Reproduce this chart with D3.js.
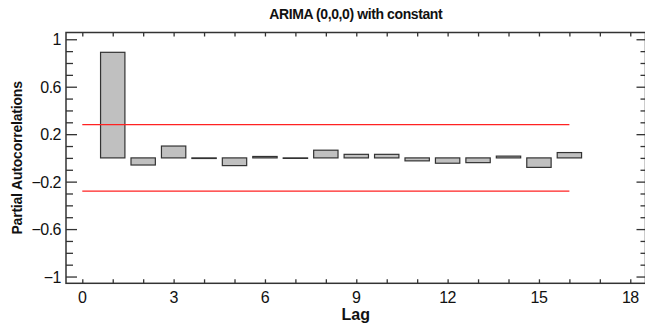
<!DOCTYPE html>
<html>
<head>
<meta charset="utf-8">
<script src="https://cdn.jsdelivr.net/npm/d3@7"></script>
<style>
  body { margin: 0; background: #fff; }
  text { font-family: "Liberation Sans Narrow", "Arial Narrow", "Liberation Sans", sans-serif; fill: #111; }
</style>
</head>
<body>
<div id="chart"></div>
<script>
// partial autocorrelations by lag
var lags = [1, 2, 3, 4, 5, 6, 7, 8, 9, 10, 11, 12, 13, 14, 15, 16]
var pacf = [0.89, -0.06, 0.10, -0.005, -0.065, 0.012, -0.004, 0.065, 0.03, 0.03, -0.025, -0.045, -0.04, 0.015, -0.08, 0.045]
var limit = 0.28
var x_ticks = [0, 3, 6, 9, 12, 15, 18]
var y_ticks = [-1, -0.6, -0.2, 0.2, 0.6, 1]
var title = "ARIMA (0,0,0) with constant"
var y_axis_label = "Partial Autocorrelations"
var x_axis_label = "Lag"

var width = 645
var height = 328
// plot box edges ("top" is taken by window.top)
var p_left = 66, p_top = 32.5, p_right = 645.5, p_bottom = 283.3

var svg = d3.select("#chart")
    .append("svg")
    .attr("width", width)
    .attr("height", height)

var x = d3.scaleLinear()
    .domain([-0.535, 18.5])
    .range([p_left, p_right])

var y = d3.scaleLinear()
    .domain([-1.057, 1.057])
    .range([p_bottom, p_top])

var minor_x = d3.range(0, 19)
var minor_y = d3.range(-10, 11).map((d) => d / 10)

// bars
svg.append("g")
    .selectAll("rect")
    .data(lags)
    .join("rect")
    .attr("x", (d) => x(d - 0.4))
    .attr("width", (d) => x(d + 0.4) - x(d - 0.4))
    .attr("y", (d, i) => y(Math.max(0, pacf[i])))
    .attr("height", (d, i) => Math.max(0.5, Math.abs(y(pacf[i]) - y(0))))
    .attr("fill", "#c0c0c0")
    .attr("stroke", "#333")
    .attr("stroke-width", 1.2)

// significance limits
;[limit, -limit].forEach((v) => {
    svg.append("line")
        .attr("x1", x(0))
        .attr("x2", x(16))
        .attr("y1", y(v))
        .attr("y2", y(v))
        .attr("stroke", "#f22")
        .attr("stroke-width", 1.2)
})

// axes on all four sides, ticks pointing in
var y_major = (d) => y_ticks.some((t) => Math.abs(t - d) < 1e-9)

svg.append("g")
    .attr("transform", "translate(" + p_left + ",0)")
    .call(d3.axisRight(y).tickValues(minor_y).tickSize(7).tickFormat(""))
    .call((g) => g.selectAll(".tick line").filter(y_major).attr("x2", 11))
svg.append("g")
    .attr("transform", "translate(" + p_right + ",0)")
    .call(d3.axisLeft(y).tickValues(minor_y).tickSize(5).tickFormat(""))
    .call((g) => g.selectAll(".tick line").filter(y_major).attr("x2", -9))
svg.append("g")
    .attr("transform", "translate(0," + p_bottom + ")")
    .call(d3.axisTop(x).tickValues(minor_x).tickSize(4).tickFormat(""))
svg.append("g")
    .attr("transform", "translate(0," + p_top + ")")
    .call(d3.axisBottom(x).tickValues(minor_x).tickSize(4).tickFormat(""))

svg.selectAll(".domain").remove()
svg.selectAll(".tick line").attr("stroke", "#333").attr("stroke-width", 1.3)

svg.append("rect")
    .attr("x", p_left)
    .attr("y", p_top)
    .attr("width", p_right - p_left)
    .attr("height", p_bottom - p_top)
    .attr("fill", "none")
    .attr("stroke", "#333")
    .attr("stroke-width", 1.5)

// tick labels
svg.append("g")
    .selectAll("text")
    .data(y_ticks)
    .join("text")
    .attr("x", p_left - 5)
    .attr("y", (d) => y(d) + 6)
    .attr("text-anchor", "end")
    .style("font-size", "16px")
    .style("letter-spacing", "-0.5px")
    .text((d) => d3.format("")(d).replace("-", "\u2212"))

svg.append("g")
    .selectAll("text")
    .data(x_ticks)
    .join("text")
    .attr("x", (d) => x(d))
    .attr("y", p_bottom + 20)
    .attr("text-anchor", "middle")
    .style("font-size", "16px")
    .style("letter-spacing", "-0.5px")
    .text((d) => d)

// titles
svg.append("text")
    .attr("x", (p_left + p_right) / 2)
    .attr("y", 19)
    .attr("text-anchor", "middle")
    .style("font-size", "14px")
    .style("font-weight", "bold")
    .style("letter-spacing", "-0.4px")
    .text(title)

svg.append("text")
    .attr("transform", "translate(22," + y(0) + ") rotate(-90)")
    .attr("text-anchor", "middle")
    .style("font-size", "14px")
    .style("font-weight", "bold")
    .style("letter-spacing", "-0.2px")
    .text(y_axis_label)

svg.append("text")
    .attr("x", (p_left + p_right) / 2)
    .attr("y", 320)
    .attr("text-anchor", "middle")
    .style("font-size", "16px")
    .style("font-weight", "bold")
    .text(x_axis_label)
</script>
</body>
</html>
